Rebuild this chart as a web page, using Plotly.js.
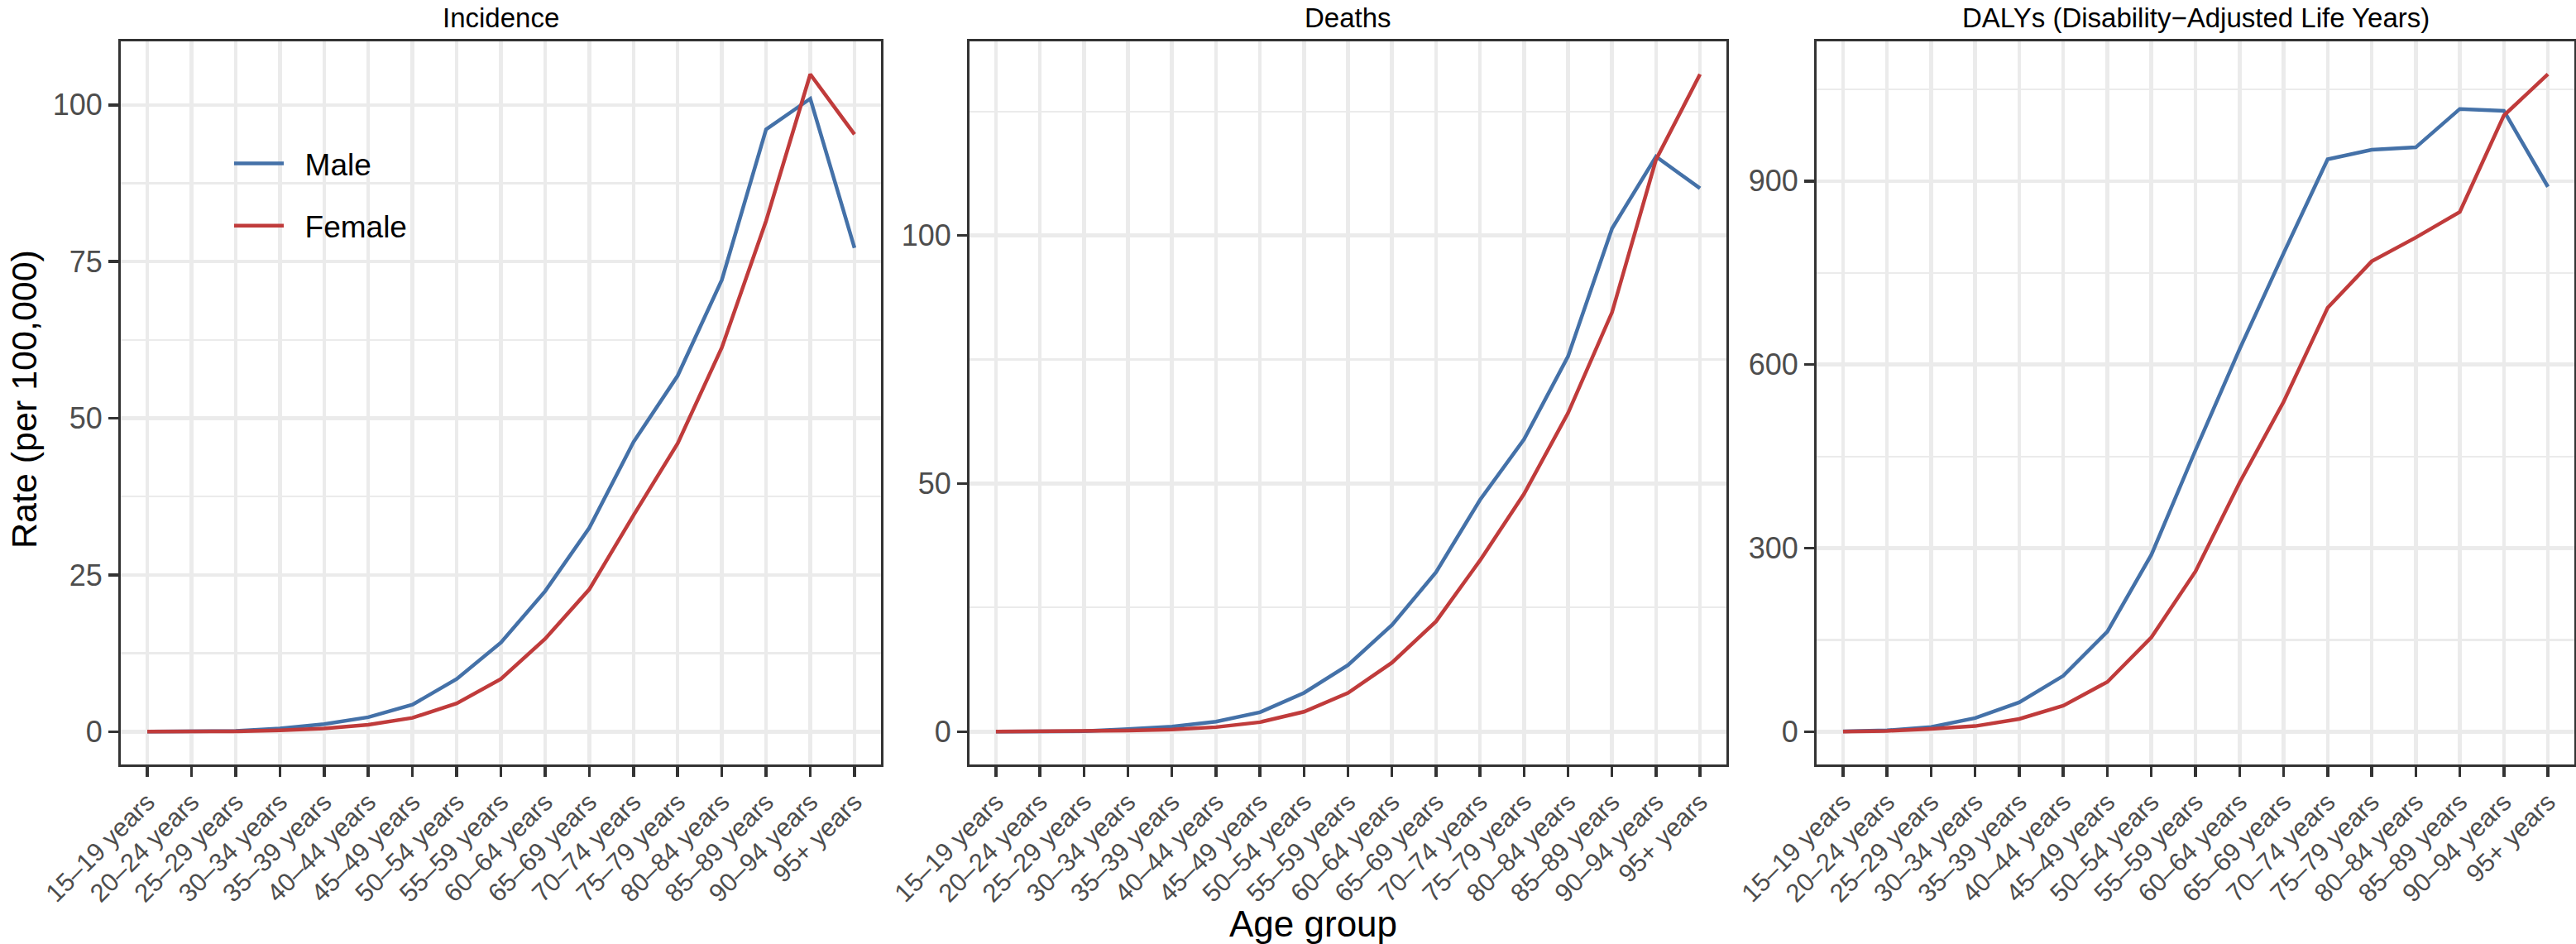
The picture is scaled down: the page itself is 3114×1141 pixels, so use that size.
<!DOCTYPE html>
<html>
<head>
<meta charset="utf-8">
<script src="https://cdn.plot.ly/plotly-3.0.1.min.js"></script>
<style>html,body{margin:0;padding:0;background:#fff;}#chart{width:3114px;height:1141px;}</style>
</head>
<body>
<div id="chart"></div>
<script>
const ageGroups = ['15–19 years','20–24 years','25–29 years','30–34 years','35–39 years','40–44 years','45–49 years','50–54 years','55–59 years','60–64 years','65–69 years','70–74 years','75–79 years','80–84 years','85–89 years','90–94 years','95+ years'];
const panelTitles = ['Incidence', 'Deaths', 'DALYs (Disability−Adjusted Life Years)'];
const incidenceMale   = [0, 0.02, 0.1, 0.5, 1.2, 2.3, 4.3, 8.4, 14.2, 22.4, 32.5, 46.2, 56.8, 72.1, 96.1, 101.0, 77.2];
const incidenceFemale = [0, 0.01, 0.05, 0.2, 0.5, 1.1, 2.2, 4.5, 8.4, 14.8, 22.7, 34.5, 46.0, 61.3, 81.5, 104.9, 95.3];
const deathsMale      = [0, 0.01, 0.1, 0.5, 1.0, 2.0, 3.9, 7.8, 13.4, 21.5, 32.1, 46.7, 58.9, 75.6, 101.4, 115.9, 109.5];
const deathsFemale    = [0, 0.01, 0.05, 0.2, 0.4, 0.9, 1.9, 4.0, 7.8, 13.9, 22.2, 34.5, 47.9, 64.2, 84.5, 115.3, 132.5];
const dalysMale       = [0.5, 2.3, 7.8, 22.5, 48, 91.5, 163.7, 289.4, 460, 625, 782, 935.6, 951, 955, 1017.8, 1014.7, 890.6];
const dalysFemale     = [0.3, 1.5, 4.7, 9.3, 21, 42.7, 81.5, 154.4, 262, 407, 539, 692.8, 768.8, 807.6, 849.5, 1007, 1074.5];
const sexes = ['Male', 'Female'];
const yDticks = [25, 50, 300];

const colors = {Male: '#4471A8', Female: '#C03B3B'};
const W = 3114, H = 1141;
const FONT = 'Liberation Sans, Arial, Helvetica, sans-serif';
const panelsPx = [[146, 1065], [1172, 2087], [2196, 3112]];
const topPx = 50, botPx = 924;
const series = [[incidenceMale, incidenceFemale], [deathsMale, deathsFemale], [dalysMale, dalysFemale]];

const traces = [];
const layout = {
  width: W, height: H,
  margin: {l: 0, r: 0, t: 0, b: 0},
  paper_bgcolor: '#fff', plot_bgcolor: '#fff',
  showlegend: true,
  legend: {
    x: 278 / W, y: 1 - 167 / H, xanchor: 'left', yanchor: 'top',
    bgcolor: 'rgba(0,0,0,0)', font: {family: FONT, size: 37, color: '#000'},
    traceorder: 'grouped', tracegroupgap: 24, itemwidth: 60
  },
  annotations: [],
  font: {family: FONT}
};

series.forEach((pair, p) => {
  const ax = p === 0 ? '' : String(p + 1);
  const all = pair[0].concat(pair[1]);
  const mn = Math.min(...all), mx = Math.max(...all);
  const pad = 0.05 * (mx - mn);
  sexes.forEach((s, k) => {
    traces.push({
      type: 'scatter', mode: 'lines', x: ageGroups, y: pair[k], name: '  ' + s,
      xaxis: 'x' + ax, yaxis: 'y' + ax,
      line: {color: colors[s], width: 4.5},
      showlegend: p === 0, legendgroup: s
    });
  });
  const dom = [panelsPx[p][0] / W, panelsPx[p][1] / W];
  layout['xaxis' + ax] = {
    domain: dom, anchor: 'y' + ax, type: 'category',
    range: [-0.6, ageGroups.length - 1 + 0.6],
    showline: true, linecolor: '#333333', linewidth: 3, mirror: true,
    ticks: 'outside', ticklen: 12, tickwidth: 3.5, tickcolor: '#333333',
    tickangle: -45, tickfont: {family: FONT, size: 31, color: '#4D4D4D'},
    showgrid: true, gridcolor: '#EBEBEB', gridwidth: 4.5, zeroline: false,
    fixedrange: true
  };
  layout['yaxis' + ax] = {
    domain: [1 - botPx / H, 1 - topPx / H], anchor: 'x' + ax,
    range: [mn - pad, mx + pad], dtick: yDticks[p], tick0: 0,
    showline: true, linecolor: '#333333', linewidth: 3, mirror: true,
    ticks: 'outside', ticklen: 12, tickwidth: 3.5, tickcolor: '#333333',
    tickfont: {family: FONT, size: 36, color: '#4D4D4D'},
    showgrid: true, gridcolor: '#EBEBEB', gridwidth: 4.5, zeroline: false,
    minor: {dtick: yDticks[p] / 2, tick0: 0, showgrid: true, gridcolor: '#EBEBEB', gridwidth: 2.2, ticks: ''},
    fixedrange: true
  };
  layout.annotations.push({
    text: panelTitles[p], xref: 'paper', yref: 'paper',
    x: (panelsPx[p][0] + panelsPx[p][1]) / 2 / W, y: 1 - 2 / H,
    xanchor: 'center', yanchor: 'top', showarrow: false, borderpad: 0,
    font: {family: FONT, size: 33, color: '#000'}
  });
});

layout.annotations.push({
  text: 'Rate (per 100,000)', xref: 'paper', yref: 'paper',
  x: 29 / W, y: 1 - 483 / H, xanchor: 'center', yanchor: 'middle',
  textangle: -90, showarrow: false, borderpad: 0, font: {family: FONT, size: 43, color: '#000'}
});
layout.annotations.push({
  text: 'Age group', xref: 'paper', yref: 'paper',
  x: 1587 / W, y: 1 - 1116 / H, xanchor: 'center', yanchor: 'middle',
  showarrow: false, font: {family: FONT, size: 44, color: '#000'}
});

Plotly.newPlot('chart', traces, layout, {displayModeBar: false, staticPlot: true});
</script>
</body>
</html>
